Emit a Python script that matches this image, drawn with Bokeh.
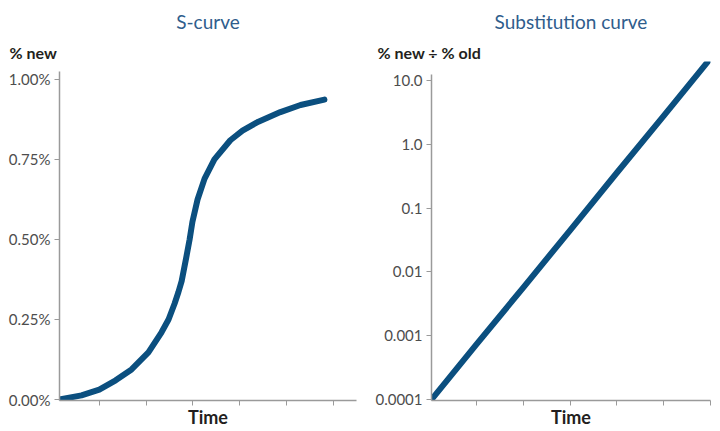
from bokeh.plotting import figure
from bokeh.layouts import row
from bokeh.models import FixedTicker, Range1d, Title
from bokeh.embed import file_html
from bokeh.resources import INLINE

# ---- data ----
s_time = [0.15, 0.62, 1.0, 1.35, 1.69, 2.05, 2.33, 2.48, 2.61, 2.69, 2.76, 2.86,
          2.93, 2.99, 3.10, 3.25, 3.46, 3.80, 4.06, 4.40, 4.87, 5.30, 5.81]
s_share = [0.0, 0.013, 0.031, 0.06, 0.094, 0.147, 0.21, 0.25, 0.30, 0.335, 0.37, 0.445,
           0.50, 0.555, 0.625, 0.69, 0.75, 0.81, 0.84, 0.868, 0.898, 0.92, 0.937]

sub_time = [0.04, 1, 2, 3, 4, 5, 5.97]
sub_ratio = [0.0001, 0.00073, 0.0057, 0.045, 0.36, 2.8, 21.0]

time_ticks = [1, 2, 3, 4, 5, 6]
s_ticks = [0.0, 0.25, 0.5, 0.75, 1.0]
s_tick_labels = ["0.00%", "0.25%", "0.50%", "0.75%", "1.00%"]
sub_ticks = [0.0001, 0.001, 0.01, 0.1, 1.0, 10.0]
sub_tick_labels = ["0.0001", "0.001", "0.01", "0.1", "1.0", "10.0"]

LINE = "#0b4f7f"
TITLE = "#2f5d8c"
AXIS = "#9a9a9a"
TICKTXT = "#4d4d4d"
DARK = "#231f20"
FONT = "Lato"


def style(p, title, ylabel, ylabel_offset):
    p.title = None
    p.outline_line_color = None
    p.grid.visible = False
    for ax in (p.xaxis[0], p.yaxis[0]):
        ax.axis_line_color = AXIS
        ax.axis_line_width = 1.5
        ax.major_tick_line_color = AXIS
        ax.major_tick_in = 0
        ax.major_tick_out = 5
        ax.minor_tick_line_color = None
        ax.major_label_text_font = FONT
        ax.major_label_text_color = TICKTXT
        ax.major_label_text_font_size = "15px"
    xa = p.xaxis[0]
    xa.ticker = FixedTicker(ticks=time_ticks)
    xa.major_label_text_font_size = "0px"
    xa.major_label_text_color = None
    xa.major_label_standoff = 0
    xa.axis_label = "Time"
    xa.axis_label_standoff = 0
    xa.axis_label_text_font = FONT
    xa.axis_label_text_font_size = "18px"
    xa.axis_label_text_font_style = "bold"
    xa.axis_label_text_color = DARK
    p.yaxis[0].major_label_standoff = 4
    # y-axis caption (closest to the frame), then the panel title above it
    p.add_layout(Title(text=ylabel, align="left", offset=ylabel_offset, standoff=0,
                       text_font=FONT, text_font_size="16px", text_font_style="bold",
                       text_color=DARK), "above")
    p.add_layout(Title(text=title, align="center", standoff=15,
                       text_font=FONT, text_font_size="19px", text_font_style="normal",
                       text_color=TITLE), "above")


# ---- left: S-curve ----
left = figure(width=362, height=430, output_backend="svg", toolbar_location=None,
              x_range=Range1d(0.15, 6.496), y_range=Range1d(-0.0031, 1.056),
              min_border_left=59, min_border_right=6, min_border_top=59,
              min_border_bottom=20)
style(left, "S-curve", "% new", -50)
left.xaxis[0].bounds = (0.15, 6.496)
left.yaxis[0].bounds = (-0.0031, 1.025)
left.yaxis[0].ticker = FixedTicker(ticks=s_ticks)
left.yaxis[0].major_label_overrides = {t: l for t, l in zip(s_ticks, s_tick_labels)}
left.line(s_time, s_share, line_color=LINE, line_width=6, line_cap="round", line_join="round")

# ---- right: substitution curve ----
right = figure(width=349, height=430, output_backend="svg", toolbar_location=None,
               y_axis_type="log",
               x_range=Range1d(0.04, 6.0), y_range=Range1d(9.65e-5, 20.0),
               min_border_left=69, min_border_right=1, min_border_top=59,
               min_border_bottom=20)
style(right, "Substitution curve", "% new \u00f7 % old", -54)
right.yaxis[0].bounds = (9.65e-5, 12.5)
right.yaxis[0].ticker = FixedTicker(ticks=sub_ticks)
right.yaxis[0].major_label_overrides = {t: l for t, l in zip(sub_ticks, sub_tick_labels)}
right.line(sub_time, sub_ratio, line_color=LINE, line_width=6, line_cap="round", line_join="round")

layout = row(left, right)
open("out.html", "w").write(file_html(layout, INLINE))
